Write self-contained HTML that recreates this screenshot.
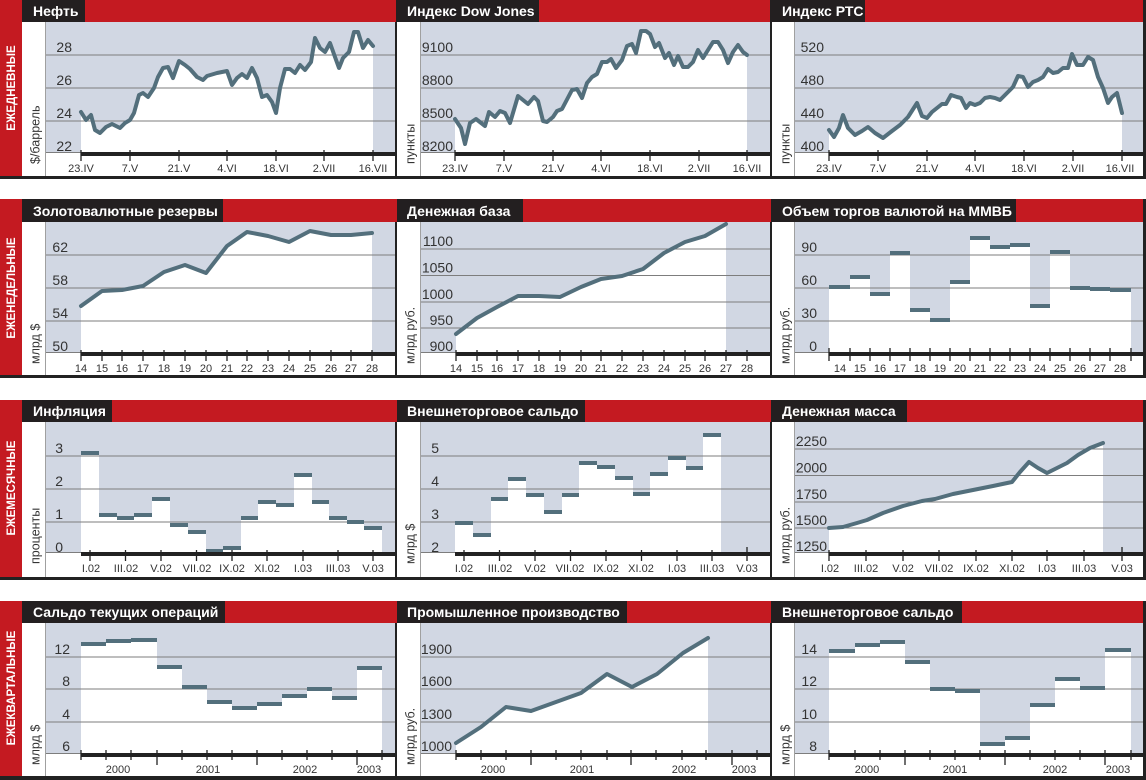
<!DOCTYPE html>
<html><head><meta charset="utf-8"><style>
html,body{margin:0;padding:0;background:#fff;}
svg{display:block}
text{font-family:"Liberation Sans","DejaVu Sans",sans-serif}
.t{font-weight:bold;font-size:14px;fill:#fff}
.c{font-weight:bold;font-size:11.5px;fill:#fff;text-anchor:middle}
.y{font-size:14px;fill:#333;text-anchor:end}
.x{font-size:11px;fill:#333;text-anchor:middle}
.a{font-size:12.5px;fill:#333}
.g{stroke:#7d7d7d;stroke-width:1}
.l{fill:none;stroke:#536f7c;stroke-width:4;stroke-linejoin:round;stroke-linecap:round}
.w{fill:#fff}
.b{fill:#536f7c}
.k{stroke:#222;stroke-width:1.3}
.r{fill:#c41a21}
.h{fill:#231f20}
.p{fill:#d1d7e3}
.s{fill:#222}
.v{stroke:#a0a0a0;stroke-width:1}
</style></head><body>
<svg width="1146" height="780" viewBox="0 0 1146 780" xmlns="http://www.w3.org/2000/svg">

<!-- ================= ROW 1 ================= -->
<rect class="r" x="0" y="0" width="1146" height="22"/>
<rect class="r" x="0" y="0" width="22" height="176"/>
<rect class="h" x="22" y="0" width="63" height="22"/>
<rect class="h" x="396" y="0" width="143" height="22"/>
<rect class="h" x="770" y="0" width="95" height="22"/>
<text class="t" x="33" y="16">Нефть</text>
<text class="t" x="407" y="16">Индекс Dow Jones</text>
<text class="t" x="782" y="16">Индекс РТС</text>
<text class="c" transform="translate(15,88) rotate(-90)">ЕЖЕДНЕВНЫЕ</text>
<rect class="p" x="46" y="22" width="349" height="130"/>
<rect class="p" x="421" y="22" width="349" height="130"/>
<rect class="p" x="795" y="22" width="348" height="130"/>
<line class="v" x1="45.5" y1="22" x2="45.5" y2="176"/>
<line class="v" x1="420.5" y1="22" x2="420.5" y2="176"/>
<line class="v" x1="794.5" y1="22" x2="794.5" y2="176"/>
<rect class="s" x="395" y="22" width="2" height="154"/>
<rect class="s" x="770" y="22" width="2" height="154"/>
<rect class="s" x="1143" y="0" width="3" height="176"/>
<rect class="s" x="0" y="176" width="1146" height="3"/>

<!-- C1 Нефть -->
<polygon class="w" points="81,112 86,120 91,115 95,130 100,133 106,127 112,124 120,128 125,123 130,120 134,113 139,95 143,93 148,97 154,88 158,77 163,68 168,67 173,78 179,61 185,65 190,69 197,77 203,80 207,76 217,73 227,71 232,85 237,78 242,74 247,78 252,68 257,78 262,97 267,95 272,102 276,113 280,88 285,69 290,69 295,73 300,65 305,70 311,62 315,38 320,48 325,52 330,43 335,57 339,68 343,58 349,52 354,32 358,32 363,48 368,40 373,46 373,152 81,152"/>
<g class="g"><line x1="46" y1="55" x2="395" y2="55"/><line x1="46" y1="88" x2="395" y2="88"/><line x1="46" y1="121" x2="395" y2="121"/><line x1="46" y1="152.5" x2="395" y2="152.5"/></g>
<polyline class="l" points="81,112 86,120 91,115 95,130 100,133 106,127 112,124 120,128 125,123 130,120 134,113 139,95 143,93 148,97 154,88 158,77 163,68 168,67 173,78 179,61 185,65 190,69 197,77 203,80 207,76 217,73 227,71 232,85 237,78 242,74 247,78 252,68 257,78 262,97 267,95 272,102 276,113 280,88 285,69 290,69 295,73 300,65 305,70 311,62 315,38 320,48 325,52 330,43 335,57 339,68 343,58 349,52 354,32 358,32 363,48 368,40 373,46"/>
<rect class="s" x="81" y="152" width="314" height="4"/>
<g class="k"><line x1="81" y1="150" x2="81" y2="161"/><line x1="130" y1="150" x2="130" y2="161"/><line x1="179" y1="150" x2="179" y2="161"/><line x1="227" y1="150" x2="227" y2="161"/><line x1="276" y1="150" x2="276" y2="161"/><line x1="324" y1="150" x2="324" y2="161"/><line x1="373" y1="150" x2="373" y2="161"/></g>
<g class="x"><text x="81" y="172">23.IV</text><text x="130" y="172">7.V</text><text x="179" y="172">21.V</text><text x="227" y="172">4.VI</text><text x="276" y="172">18.VI</text><text x="324" y="172">2.VII</text><text x="373" y="172">16.VII</text></g>
<g class="y"><text x="72" y="52">28</text><text x="72" y="85">26</text><text x="72" y="118">24</text><text x="72" y="151">22</text></g>
<text class="a" transform="translate(39.5,164) rotate(-90)">$/баррель</text>

<!-- C2 Dow Jones -->
<polygon class="w" points="455,119 461,128 465,144 470,123 476,119 485,126 489,112 495,117 500,111 505,113 510,123 518,96 528,104 534,97 538,101 543,121 547,122 553,117 557,111 562,109 572,90 577,89 582,98 587,83 592,77 597,74 602,62 607,62 611,59 616,68 622,60 627,46 632,44 636,53 641,31 646,31 650,34 655,47 659,43 665,58 669,53 674,65 678,56 683,67 688,67 693,62 698,50 703,58 713,42 718,42 723,50 728,63 733,52 738,45 743,52 747,55 747,152 455,152"/>
<g class="g"><line x1="421" y1="55" x2="770" y2="55"/><line x1="421" y1="88" x2="770" y2="88"/><line x1="421" y1="121" x2="770" y2="121"/><line x1="421" y1="152.5" x2="770" y2="152.5"/></g>
<polyline class="l" points="455,119 461,128 465,144 470,123 476,119 485,126 489,112 495,117 500,111 505,113 510,123 518,96 528,104 534,97 538,101 543,121 547,122 553,117 557,111 562,109 572,90 577,89 582,98 587,83 592,77 597,74 602,62 607,62 611,59 616,68 622,60 627,46 632,44 636,53 641,31 646,31 650,34 655,47 659,43 665,58 669,53 674,65 678,56 683,67 688,67 693,62 698,50 703,58 713,42 718,42 723,50 728,63 733,52 738,45 743,52 747,55"/>
<rect class="s" x="455" y="152" width="315" height="4"/>
<g class="k"><line x1="455" y1="150" x2="455" y2="161"/><line x1="504" y1="150" x2="504" y2="161"/><line x1="553" y1="150" x2="553" y2="161"/><line x1="601" y1="150" x2="601" y2="161"/><line x1="650" y1="150" x2="650" y2="161"/><line x1="699" y1="150" x2="699" y2="161"/><line x1="747" y1="150" x2="747" y2="161"/></g>
<g class="x"><text x="455" y="172">23.IV</text><text x="504" y="172">7.V</text><text x="553" y="172">21.V</text><text x="601" y="172">4.VI</text><text x="650" y="172">18.VI</text><text x="699" y="172">2.VII</text><text x="747" y="172">16.VII</text></g>
<g class="y"><text x="453" y="52">9100</text><text x="453" y="85">8800</text><text x="453" y="118">8500</text><text x="453" y="151">8200</text></g>
<text class="a" transform="translate(414.5,164) rotate(-90)">пункты</text>

<!-- C3 РТС -->
<polygon class="w" points="829,130 834,137 839,128 843,115 848,128 855,135 862,131 868,127 875,133 883,138 892,131 900,125 908,117 917,103 922,116 927,118 932,112 937,108 942,104 946,104 951,95 957,97 961,98 966,108 970,103 975,105 980,103 985,98 990,97 995,98 1000,100 1007,93 1013,87 1018,76 1023,77 1028,87 1033,82 1038,80 1043,77 1048,69 1053,73 1058,72 1063,68 1068,68 1072,54 1077,65 1083,65 1088,57 1093,60 1098,77 1103,88 1108,103 1112,97 1117,93 1122,113 1122,152 829,152"/>
<g class="g"><line x1="795" y1="55" x2="1143" y2="55"/><line x1="795" y1="88" x2="1143" y2="88"/><line x1="795" y1="121" x2="1143" y2="121"/><line x1="795" y1="152.5" x2="1143" y2="152.5"/></g>
<polyline class="l" points="829,130 834,137 839,128 843,115 848,128 855,135 862,131 868,127 875,133 883,138 892,131 900,125 908,117 917,103 922,116 927,118 932,112 937,108 942,104 946,104 951,95 957,97 961,98 966,108 970,103 975,105 980,103 985,98 990,97 995,98 1000,100 1007,93 1013,87 1018,76 1023,77 1028,87 1033,82 1038,80 1043,77 1048,69 1053,73 1058,72 1063,68 1068,68 1072,54 1077,65 1083,65 1088,57 1093,60 1098,77 1103,88 1108,103 1112,97 1117,93 1122,113"/>
<rect class="s" x="829" y="152" width="314" height="4"/>
<g class="k"><line x1="829" y1="150" x2="829" y2="161"/><line x1="878" y1="150" x2="878" y2="161"/><line x1="927" y1="150" x2="927" y2="161"/><line x1="975" y1="150" x2="975" y2="161"/><line x1="1024" y1="150" x2="1024" y2="161"/><line x1="1073" y1="150" x2="1073" y2="161"/><line x1="1122" y1="150" x2="1122" y2="161"/></g>
<g class="x"><text x="829" y="172">23.IV</text><text x="878" y="172">7.V</text><text x="927" y="172">21.V</text><text x="975" y="172">4.VI</text><text x="1024" y="172">18.VI</text><text x="1073" y="172">2.VII</text><text x="1120" y="172">16.VII</text></g>
<g class="y"><text x="824" y="52">520</text><text x="824" y="85">480</text><text x="824" y="118">440</text><text x="824" y="151">400</text></g>
<text class="a" transform="translate(789.5,164) rotate(-90)">пункты</text>

<!-- ================= ROW 2 ================= -->
<rect class="r" x="0" y="199" width="1146" height="23"/>
<rect class="r" x="0" y="199" width="22" height="176"/>
<rect class="h" x="22" y="199" width="201" height="23"/>
<rect class="h" x="397" y="199" width="126" height="23"/>
<rect class="h" x="771" y="199" width="245" height="23"/>
<text class="t" x="33" y="216">Золотовалютные резервы</text>
<text class="t" x="407" y="216">Денежная база</text>
<text class="t" x="782" y="216">Объем торгов валютой на ММВБ</text>
<text class="c" transform="translate(15,288) rotate(-90)">ЕЖЕНЕДЕЛЬНЫЕ</text>
<rect class="p" x="46" y="222" width="349" height="130"/>
<rect class="p" x="421" y="222" width="349" height="130"/>
<rect class="p" x="795" y="222" width="348" height="130"/>
<line class="v" x1="45.5" y1="222" x2="45.5" y2="375"/>
<line class="v" x1="420.5" y1="222" x2="420.5" y2="375"/>
<line class="v" x1="794.5" y1="222" x2="794.5" y2="375"/>
<rect class="s" x="395" y="222" width="2" height="153"/>
<rect class="s" x="770" y="222" width="2" height="153"/>
<rect class="s" x="1143" y="199" width="3" height="176"/>
<rect class="s" x="0" y="375" width="1146" height="3"/>

<!-- C4 Золотовалютные резервы -->
<polygon class="w" points="81,306 102,291 122,290 143,286 164,272 185,265 206,273 227,246 247,232 268,236 289,242 310,231 331,235 351,235 372,233 372,352 81,352"/>
<g class="g"><line x1="46" y1="255" x2="395" y2="255"/><line x1="46" y1="288" x2="395" y2="288"/><line x1="46" y1="321" x2="395" y2="321"/><line x1="46" y1="352.5" x2="395" y2="352.5"/></g>
<polyline class="l" points="81,306 102,291 122,290 143,286 164,272 185,265 206,273 227,246 247,232 268,236 289,242 310,231 331,235 351,235 372,233"/>
<rect class="s" x="81" y="352" width="314" height="4"/>
<g class="k"><line x1="81" y1="350" x2="81" y2="361"/><line x1="102" y1="350" x2="102" y2="361"/><line x1="122" y1="350" x2="122" y2="361"/><line x1="143" y1="350" x2="143" y2="361"/><line x1="164" y1="350" x2="164" y2="361"/><line x1="185" y1="350" x2="185" y2="361"/><line x1="206" y1="350" x2="206" y2="361"/><line x1="227" y1="350" x2="227" y2="361"/><line x1="247" y1="350" x2="247" y2="361"/><line x1="268" y1="350" x2="268" y2="361"/><line x1="289" y1="350" x2="289" y2="361"/><line x1="310" y1="350" x2="310" y2="361"/><line x1="331" y1="350" x2="331" y2="361"/><line x1="351" y1="350" x2="351" y2="361"/><line x1="372" y1="350" x2="372" y2="361"/></g>
<g class="x"><text x="81" y="372">14</text><text x="102" y="372">15</text><text x="122" y="372">16</text><text x="143" y="372">17</text><text x="164" y="372">18</text><text x="185" y="372">19</text><text x="206" y="372">20</text><text x="227" y="372">21</text><text x="247" y="372">22</text><text x="268" y="372">23</text><text x="289" y="372">24</text><text x="310" y="372">25</text><text x="331" y="372">26</text><text x="351" y="372">27</text><text x="372" y="372">28</text></g>
<g class="y"><text x="68" y="252">62</text><text x="68" y="285">58</text><text x="68" y="318">54</text><text x="68" y="351">50</text></g>
<text class="a" transform="translate(39.5,364) rotate(-90)">млрд $</text>

<!-- C5 Денежная база -->
<polygon class="w" points="456,334 477,318 497,307 518,296 539,296 560,297 581,287 601,279 622,276 643,269 664,253 685,242 705,236 726,224 726,352 456,352"/>
<g class="g"><line x1="421" y1="249" x2="770" y2="249"/><line x1="421" y1="275.5" x2="770" y2="275.5"/><line x1="421" y1="302" x2="770" y2="302"/><line x1="421" y1="328" x2="770" y2="328"/><line x1="421" y1="352.5" x2="770" y2="352.5"/></g>
<polyline class="l" points="456,334 477,318 497,307 518,296 539,296 560,297 581,287 601,279 622,276 643,269 664,253 685,242 705,236 726,224"/>
<rect class="s" x="456" y="352" width="314" height="4"/>
<g class="k"><line x1="456" y1="350" x2="456" y2="361"/><line x1="477" y1="350" x2="477" y2="361"/><line x1="497" y1="350" x2="497" y2="361"/><line x1="518" y1="350" x2="518" y2="361"/><line x1="539" y1="350" x2="539" y2="361"/><line x1="560" y1="350" x2="560" y2="361"/><line x1="581" y1="350" x2="581" y2="361"/><line x1="601" y1="350" x2="601" y2="361"/><line x1="622" y1="350" x2="622" y2="361"/><line x1="643" y1="350" x2="643" y2="361"/><line x1="664" y1="350" x2="664" y2="361"/><line x1="685" y1="350" x2="685" y2="361"/><line x1="705" y1="350" x2="705" y2="361"/><line x1="726" y1="350" x2="726" y2="361"/><line x1="747" y1="350" x2="747" y2="361"/></g>
<g class="x"><text x="456" y="372">14</text><text x="477" y="372">15</text><text x="497" y="372">16</text><text x="518" y="372">17</text><text x="539" y="372">18</text><text x="560" y="372">19</text><text x="581" y="372">20</text><text x="601" y="372">21</text><text x="622" y="372">22</text><text x="643" y="372">23</text><text x="664" y="372">24</text><text x="685" y="372">25</text><text x="705" y="372">26</text><text x="726" y="372">27</text><text x="747" y="372">28</text></g>
<g class="y"><text x="453" y="246">1100</text><text x="453" y="272.5">1050</text><text x="453" y="299">1000</text><text x="453" y="325">950</text><text x="453" y="351">900</text></g>
<text class="a" transform="translate(414.5,364) rotate(-90)">млрд руб.</text>

<!-- C6 Объем торгов -->
<g class="w">
<rect x="829" y="285" width="21" height="67"/><rect x="850" y="275" width="20" height="77"/><rect x="870" y="292" width="20" height="60"/><rect x="890" y="251" width="20" height="101"/><rect x="910" y="308" width="20" height="44"/><rect x="930" y="318" width="20" height="34"/><rect x="950" y="280" width="20" height="72"/><rect x="970" y="236" width="20" height="116"/><rect x="990" y="245" width="20" height="107"/><rect x="1010" y="243" width="20" height="109"/><rect x="1030" y="304" width="20" height="48"/><rect x="1050" y="250" width="20" height="102"/><rect x="1070" y="286" width="20" height="66"/><rect x="1090" y="287" width="20" height="65"/><rect x="1110" y="288" width="21" height="64"/>
</g>
<g class="g"><line x1="795" y1="255" x2="1143" y2="255"/><line x1="795" y1="288" x2="1143" y2="288"/><line x1="795" y1="321" x2="1143" y2="321"/><line x1="795" y1="352.5" x2="1143" y2="352.5"/></g>
<g class="b">
<rect x="829" y="285" width="21" height="4"/><rect x="850" y="275" width="20" height="4"/><rect x="870" y="292" width="20" height="4"/><rect x="890" y="251" width="20" height="4"/><rect x="910" y="308" width="20" height="4"/><rect x="930" y="318" width="20" height="4"/><rect x="950" y="280" width="20" height="4"/><rect x="970" y="236" width="20" height="4"/><rect x="990" y="245" width="20" height="4"/><rect x="1010" y="243" width="20" height="4"/><rect x="1030" y="304" width="20" height="4"/><rect x="1050" y="250" width="20" height="4"/><rect x="1070" y="286" width="20" height="4"/><rect x="1090" y="287" width="20" height="4"/><rect x="1110" y="288" width="21" height="4"/>
</g>
<rect class="s" x="829" y="352" width="314" height="4"/>
<g class="k"><line x1="829" y1="348" x2="829" y2="361"/><line x1="850" y1="348" x2="850" y2="361"/><line x1="870" y1="348" x2="870" y2="361"/><line x1="890" y1="348" x2="890" y2="361"/><line x1="910" y1="348" x2="910" y2="361"/><line x1="930" y1="348" x2="930" y2="361"/><line x1="950" y1="348" x2="950" y2="361"/><line x1="970" y1="348" x2="970" y2="361"/><line x1="990" y1="348" x2="990" y2="361"/><line x1="1010" y1="348" x2="1010" y2="361"/><line x1="1030" y1="348" x2="1030" y2="361"/><line x1="1050" y1="348" x2="1050" y2="361"/><line x1="1070" y1="348" x2="1070" y2="361"/><line x1="1090" y1="348" x2="1090" y2="361"/><line x1="1110" y1="348" x2="1110" y2="361"/><line x1="1131" y1="348" x2="1131" y2="361"/></g>
<g class="x"><text x="840" y="372">14</text><text x="860" y="372">15</text><text x="880" y="372">16</text><text x="900" y="372">17</text><text x="920" y="372">18</text><text x="940" y="372">19</text><text x="960" y="372">20</text><text x="980" y="372">21</text><text x="1000" y="372">22</text><text x="1020" y="372">23</text><text x="1040" y="372">24</text><text x="1060" y="372">25</text><text x="1080" y="372">26</text><text x="1100" y="372">27</text><text x="1120" y="372">28</text></g>
<g class="y"><text x="817" y="252">90</text><text x="817" y="285">60</text><text x="817" y="318">30</text><text x="817" y="351">0</text></g>
<text class="a" transform="translate(789.5,364) rotate(-90)">млрд руб.</text>

<!-- ================= ROW 3 ================= -->
<rect class="r" x="0" y="400" width="1146" height="22"/>
<rect class="r" x="0" y="400" width="22" height="177"/>
<rect class="h" x="22" y="400" width="90" height="22"/>
<rect class="h" x="397" y="400" width="188" height="22"/>
<rect class="h" x="771" y="400" width="136" height="22"/>
<text class="t" x="33" y="416">Инфляция</text>
<text class="t" x="407" y="416">Внешнеторговое сальдо</text>
<text class="t" x="782" y="416">Денежная масса</text>
<text class="c" transform="translate(15,488) rotate(-90)">ЕЖЕМЕСЯЧНЫЕ</text>
<rect class="p" x="46" y="422" width="349" height="130"/>
<rect class="p" x="421" y="422" width="349" height="130"/>
<rect class="p" x="795" y="422" width="348" height="130"/>
<line class="v" x1="45.5" y1="422" x2="45.5" y2="577"/>
<line class="v" x1="420.5" y1="422" x2="420.5" y2="577"/>
<line class="v" x1="794.5" y1="422" x2="794.5" y2="577"/>
<rect class="s" x="395" y="422" width="2" height="155"/>
<rect class="s" x="770" y="422" width="2" height="155"/>
<rect class="s" x="1143" y="400" width="3" height="177"/>
<rect class="s" x="0" y="577" width="1146" height="3"/>

<!-- C7 Инфляция -->
<g class="w">
<rect x="81" y="451" width="18" height="101"/><rect x="99" y="513" width="18" height="39"/><rect x="117" y="516" width="17" height="36"/><rect x="134" y="513" width="18" height="39"/><rect x="152" y="497" width="18" height="55"/><rect x="170" y="523" width="18" height="29"/><rect x="188" y="530" width="18" height="22"/><rect x="206" y="549" width="17" height="3"/><rect x="223" y="546" width="18" height="6"/><rect x="241" y="516" width="17" height="36"/><rect x="258" y="500" width="18" height="52"/><rect x="276" y="503" width="18" height="49"/><rect x="294" y="473" width="18" height="79"/><rect x="312" y="500" width="17" height="52"/><rect x="329" y="516" width="18" height="36"/><rect x="347" y="520" width="17" height="32"/><rect x="364" y="526" width="18" height="26"/>
</g>
<g class="g"><line x1="46" y1="456" x2="395" y2="456"/><line x1="46" y1="489" x2="395" y2="489"/><line x1="46" y1="522" x2="395" y2="522"/><line x1="46" y1="552.5" x2="395" y2="552.5"/></g>
<g class="b">
<rect x="81" y="451" width="18" height="4"/><rect x="99" y="513" width="18" height="4"/><rect x="117" y="516" width="17" height="4"/><rect x="134" y="513" width="18" height="4"/><rect x="152" y="497" width="18" height="4"/><rect x="170" y="523" width="18" height="4"/><rect x="188" y="530" width="18" height="4"/><rect x="206" y="549" width="17" height="4"/><rect x="223" y="546" width="18" height="4"/><rect x="241" y="516" width="17" height="4"/><rect x="258" y="500" width="18" height="4"/><rect x="276" y="503" width="18" height="4"/><rect x="294" y="473" width="18" height="4"/><rect x="312" y="500" width="17" height="4"/><rect x="329" y="516" width="18" height="4"/><rect x="347" y="520" width="17" height="4"/><rect x="364" y="526" width="18" height="4"/>
</g>
<rect class="s" x="81" y="552" width="314" height="4"/>
<g class="k"><line x1="90" y1="550" x2="90" y2="561"/><line x1="125.5" y1="550" x2="125.5" y2="561"/><line x1="161" y1="550" x2="161" y2="561"/><line x1="196.5" y1="550" x2="196.5" y2="561"/><line x1="232" y1="550" x2="232" y2="561"/><line x1="267" y1="550" x2="267" y2="561"/><line x1="303" y1="550" x2="303" y2="561"/><line x1="338" y1="550" x2="338" y2="561"/><line x1="373" y1="550" x2="373" y2="561"/></g>
<g class="x"><text x="91" y="572">I.02</text><text x="126" y="572">III.02</text><text x="161" y="572">V.02</text><text x="197" y="572">VII.02</text><text x="232" y="572">IX.02</text><text x="267" y="572">XI.02</text><text x="303" y="572">I.03</text><text x="338" y="572">III.03</text><text x="373" y="572">V.03</text></g>
<g class="y"><text x="63" y="453">3</text><text x="63" y="486">2</text><text x="63" y="519">1</text><text x="63" y="552">0</text></g>
<text class="a" transform="translate(39.5,564) rotate(-90)">проценты</text>

<!-- C8 Внешнеторговое сальдо (monthly) -->
<g class="w">
<rect x="455" y="521" width="18" height="31"/><rect x="473" y="533" width="18" height="19"/><rect x="491" y="497" width="17" height="55"/><rect x="508" y="477" width="18" height="75"/><rect x="526" y="493" width="18" height="59"/><rect x="544" y="510" width="18" height="42"/><rect x="562" y="493" width="17" height="59"/><rect x="579" y="461" width="18" height="91"/><rect x="597" y="465" width="18" height="87"/><rect x="615" y="476" width="18" height="76"/><rect x="633" y="492" width="17" height="60"/><rect x="650" y="472" width="18" height="80"/><rect x="668" y="456" width="18" height="96"/><rect x="686" y="466" width="17" height="86"/><rect x="703" y="433" width="18" height="119"/>
</g>
<g class="g"><line x1="421" y1="456" x2="770" y2="456"/><line x1="421" y1="489" x2="770" y2="489"/><line x1="421" y1="522" x2="770" y2="522"/><line x1="421" y1="552.5" x2="770" y2="552.5"/></g>
<g class="b">
<rect x="455" y="521" width="18" height="4"/><rect x="473" y="533" width="18" height="4"/><rect x="491" y="497" width="17" height="4"/><rect x="508" y="477" width="18" height="4"/><rect x="526" y="493" width="18" height="4"/><rect x="544" y="510" width="18" height="4"/><rect x="562" y="493" width="17" height="4"/><rect x="579" y="461" width="18" height="4"/><rect x="597" y="465" width="18" height="4"/><rect x="615" y="476" width="18" height="4"/><rect x="633" y="492" width="17" height="4"/><rect x="650" y="472" width="18" height="4"/><rect x="668" y="456" width="18" height="4"/><rect x="686" y="466" width="17" height="4"/><rect x="703" y="433" width="18" height="4"/>
</g>
<rect class="s" x="455" y="552" width="315" height="4"/>
<g class="k"><line x1="464" y1="550" x2="464" y2="561"/><line x1="499.5" y1="550" x2="499.5" y2="561"/><line x1="535" y1="550" x2="535" y2="561"/><line x1="570.5" y1="550" x2="570.5" y2="561"/><line x1="606" y1="550" x2="606" y2="561"/><line x1="641.5" y1="550" x2="641.5" y2="561"/><line x1="677" y1="550" x2="677" y2="561"/><line x1="712" y1="550" x2="712" y2="561"/><line x1="747" y1="547" x2="747" y2="561"/></g>
<g class="x"><text x="464" y="572">I.02</text><text x="500" y="572">III.02</text><text x="535" y="572">V.02</text><text x="570" y="572">VII.02</text><text x="606" y="572">IX.02</text><text x="641" y="572">XI.02</text><text x="677" y="572">I.03</text><text x="712" y="572">III.03</text><text x="747" y="572">V.03</text></g>
<g class="y"><text x="439" y="453">5</text><text x="439" y="486">4</text><text x="439" y="519">3</text><text x="439" y="552">2</text></g>
<text class="a" transform="translate(414.5,564) rotate(-90)">млрд $</text>

<!-- C9 Денежная масса -->
<polygon class="w" points="829,528 843,527 857,523 867,520 883,513 903,506 922,501 935,499 953,494 973,490 993,486 1012,482 1020,472 1029,462 1038,468 1047,473 1057,468 1067,463 1078,455 1090,448 1103,443 1103,552 829,552"/>
<g class="g"><line x1="795" y1="449" x2="1143" y2="449"/><line x1="795" y1="475.5" x2="1143" y2="475.5"/><line x1="795" y1="502" x2="1143" y2="502"/><line x1="795" y1="528" x2="1143" y2="528"/><line x1="795" y1="552.5" x2="1143" y2="552.5"/></g>
<polyline class="l" points="829,528 843,527 857,523 867,520 883,513 903,506 922,501 935,499 953,494 973,490 993,486 1012,482 1020,472 1029,462 1038,468 1047,473 1057,468 1067,463 1078,455 1090,448 1103,443"/>
<rect class="s" x="829" y="552" width="314" height="4"/>
<g class="k"><line x1="829" y1="550" x2="829" y2="561"/><line x1="866" y1="550" x2="866" y2="561"/><line x1="903" y1="550" x2="903" y2="561"/><line x1="939" y1="550" x2="939" y2="561"/><line x1="976" y1="550" x2="976" y2="561"/><line x1="1012" y1="550" x2="1012" y2="561"/><line x1="1047" y1="550" x2="1047" y2="561"/><line x1="1084" y1="550" x2="1084" y2="561"/><line x1="1122" y1="547" x2="1122" y2="561"/></g>
<g class="x"><text x="830" y="572">I.02</text><text x="866" y="572">III.02</text><text x="903" y="572">V.02</text><text x="939" y="572">VII.02</text><text x="976" y="572">IX.02</text><text x="1012" y="572">XI.02</text><text x="1047" y="572">I.03</text><text x="1084" y="572">III.03</text><text x="1122" y="572">V.03</text></g>
<g class="y"><text x="827" y="446">2250</text><text x="827" y="472.5">2000</text><text x="827" y="499">1750</text><text x="827" y="525">1500</text><text x="827" y="551">1250</text></g>
<text class="a" transform="translate(789.5,564) rotate(-90)">млрд руб.</text>

<!-- ================= ROW 4 ================= -->
<rect class="r" x="0" y="601" width="1146" height="22"/>
<rect class="r" x="0" y="601" width="22" height="175"/>
<rect class="h" x="22" y="601" width="203" height="22"/>
<rect class="h" x="397" y="601" width="230" height="22"/>
<rect class="h" x="771" y="601" width="191" height="22"/>
<text class="t" x="33" y="617">Сальдо текущих операций</text>
<text class="t" x="407" y="617">Промышленное производство</text>
<text class="t" x="782" y="617">Внешнеторговое сальдо</text>
<text class="c" transform="translate(15,688) rotate(-90)">ЕЖЕКВАРТАЛЬНЫЕ</text>
<rect class="p" x="46" y="623" width="349" height="130"/>
<rect class="p" x="421" y="623" width="349" height="130"/>
<rect class="p" x="795" y="623" width="348" height="130"/>
<line class="v" x1="45.5" y1="623" x2="45.5" y2="776"/>
<line class="v" x1="420.5" y1="623" x2="420.5" y2="776"/>
<line class="v" x1="794.5" y1="623" x2="794.5" y2="776"/>
<rect class="s" x="395" y="623" width="2" height="153"/>
<rect class="s" x="770" y="623" width="2" height="153"/>
<rect class="s" x="1143" y="601" width="3" height="175"/>
<rect class="s" x="0" y="776" width="1146" height="4"/>

<!-- C10 Сальдо текущих операций -->
<g class="w">
<rect x="81" y="642" width="25" height="111"/><rect x="106" y="639" width="25" height="114"/><rect x="131" y="638" width="26" height="115"/><rect x="157" y="665" width="25" height="88"/><rect x="182" y="685" width="25" height="68"/><rect x="207" y="700" width="25" height="53"/><rect x="232" y="706" width="25" height="47"/><rect x="257" y="702" width="25" height="51"/><rect x="282" y="694" width="25" height="59"/><rect x="307" y="687" width="25" height="66"/><rect x="332" y="696" width="25" height="57"/><rect x="357" y="666" width="25" height="87"/>
</g>
<g class="g"><line x1="46" y1="657" x2="395" y2="657"/><line x1="46" y1="689" x2="395" y2="689"/><line x1="46" y1="722" x2="395" y2="722"/><line x1="46" y1="753.5" x2="395" y2="753.5"/></g>
<g class="b">
<rect x="81" y="642" width="25" height="4"/><rect x="106" y="639" width="25" height="4"/><rect x="131" y="638" width="26" height="4"/><rect x="157" y="665" width="25" height="4"/><rect x="182" y="685" width="25" height="4"/><rect x="207" y="700" width="25" height="4"/><rect x="232" y="706" width="25" height="4"/><rect x="257" y="702" width="25" height="4"/><rect x="282" y="694" width="25" height="4"/><rect x="307" y="687" width="25" height="4"/><rect x="332" y="696" width="25" height="4"/><rect x="357" y="666" width="25" height="4"/>
</g>
<rect class="s" x="81" y="753" width="314" height="4"/>
<g class="k"><line x1="81" y1="750" x2="81" y2="760"/><line x1="106" y1="750" x2="106" y2="760"/><line x1="131" y1="750" x2="131" y2="760"/><line x1="157" y1="750" x2="157" y2="765"/><line x1="182" y1="750" x2="182" y2="760"/><line x1="207" y1="750" x2="207" y2="760"/><line x1="232" y1="750" x2="232" y2="760"/><line x1="257" y1="750" x2="257" y2="765"/><line x1="282" y1="750" x2="282" y2="760"/><line x1="307" y1="750" x2="307" y2="760"/><line x1="332" y1="750" x2="332" y2="760"/><line x1="357" y1="750" x2="357" y2="765"/><line x1="382" y1="750" x2="382" y2="760"/></g>
<g class="x"><text x="118" y="773">2000</text><text x="208" y="773">2001</text><text x="305" y="773">2002</text><text x="369" y="773">2003</text></g>
<g class="y"><text x="70" y="654">12</text><text x="70" y="686">8</text><text x="70" y="719">4</text><text x="70" y="751">6</text></g>
<text class="a" transform="translate(39.5,765) rotate(-90)">млрд $</text>

<!-- C11 Промышленное производство -->
<polygon class="w" points="456,743 481,727 506,707 531,711 556,702 581,693 607,674 632,687 657,674 683,653 708,638 708,753 456,753"/>
<g class="g"><line x1="421" y1="657" x2="770" y2="657"/><line x1="421" y1="689" x2="770" y2="689"/><line x1="421" y1="722" x2="770" y2="722"/><line x1="421" y1="753.5" x2="770" y2="753.5"/></g>
<polyline class="l" points="456,743 481,727 506,707 531,711 556,702 581,693 607,674 632,687 657,674 683,653 708,638"/>
<rect class="s" x="456" y="753" width="314" height="4"/>
<g class="k"><line x1="456" y1="750" x2="456" y2="760"/><line x1="481" y1="750" x2="481" y2="760"/><line x1="506" y1="750" x2="506" y2="760"/><line x1="531" y1="750" x2="531" y2="765"/><line x1="556" y1="750" x2="556" y2="760"/><line x1="581" y1="750" x2="581" y2="760"/><line x1="607" y1="750" x2="607" y2="760"/><line x1="631" y1="750" x2="631" y2="765"/><line x1="656" y1="750" x2="656" y2="760"/><line x1="682" y1="750" x2="682" y2="760"/><line x1="706" y1="750" x2="706" y2="760"/><line x1="732" y1="750" x2="732" y2="765"/><line x1="757" y1="750" x2="757" y2="760"/></g>
<g class="x"><text x="493" y="773">2000</text><text x="582" y="773">2001</text><text x="684" y="773">2002</text><text x="744" y="773">2003</text></g>
<g class="y"><text x="452" y="654">1900</text><text x="452" y="686">1600</text><text x="452" y="719">1300</text><text x="452" y="751">1000</text></g>
<text class="a" transform="translate(414.5,765) rotate(-90)">млрд руб.</text>

<!-- C12 Внешнеторговое сальдо (quarterly) -->
<g class="w">
<rect x="829" y="649" width="26" height="104"/><rect x="855" y="643" width="25" height="110"/><rect x="880" y="640" width="25" height="113"/><rect x="905" y="660" width="25" height="93"/><rect x="930" y="687" width="25" height="66"/><rect x="955" y="689" width="25" height="64"/><rect x="980" y="742" width="25" height="11"/><rect x="1005" y="736" width="25" height="17"/><rect x="1030" y="703" width="25" height="50"/><rect x="1055" y="677" width="25" height="76"/><rect x="1080" y="686" width="25" height="67"/><rect x="1105" y="648" width="26" height="105"/>
</g>
<g class="g"><line x1="795" y1="657" x2="1143" y2="657"/><line x1="795" y1="689" x2="1143" y2="689"/><line x1="795" y1="722" x2="1143" y2="722"/><line x1="795" y1="753.5" x2="1143" y2="753.5"/></g>
<g class="b">
<rect x="829" y="649" width="26" height="4"/><rect x="855" y="643" width="25" height="4"/><rect x="880" y="640" width="25" height="4"/><rect x="905" y="660" width="25" height="4"/><rect x="930" y="687" width="25" height="4"/><rect x="955" y="689" width="25" height="4"/><rect x="980" y="742" width="25" height="4"/><rect x="1005" y="736" width="25" height="4"/><rect x="1030" y="703" width="25" height="4"/><rect x="1055" y="677" width="25" height="4"/><rect x="1080" y="686" width="25" height="4"/><rect x="1105" y="648" width="26" height="4"/>
</g>
<rect class="s" x="829" y="753" width="314" height="4"/>
<g class="k"><line x1="829" y1="750" x2="829" y2="760"/><line x1="855" y1="750" x2="855" y2="760"/><line x1="880" y1="750" x2="880" y2="760"/><line x1="905" y1="750" x2="905" y2="765"/><line x1="930" y1="750" x2="930" y2="760"/><line x1="955" y1="750" x2="955" y2="760"/><line x1="980" y1="750" x2="980" y2="760"/><line x1="1005" y1="750" x2="1005" y2="765"/><line x1="1030" y1="750" x2="1030" y2="760"/><line x1="1055" y1="750" x2="1055" y2="760"/><line x1="1080" y1="750" x2="1080" y2="760"/><line x1="1105" y1="750" x2="1105" y2="765"/><line x1="1131" y1="750" x2="1131" y2="760"/></g>
<g class="x"><text x="867" y="773">2000</text><text x="955" y="773">2001</text><text x="1055" y="773">2002</text><text x="1118" y="773">2003</text></g>
<g class="y"><text x="817" y="654">14</text><text x="817" y="686">12</text><text x="817" y="719">10</text><text x="817" y="751">8</text></g>
<text class="a" transform="translate(789.5,765) rotate(-90)">млрд $</text>

</svg>
</body></html>
